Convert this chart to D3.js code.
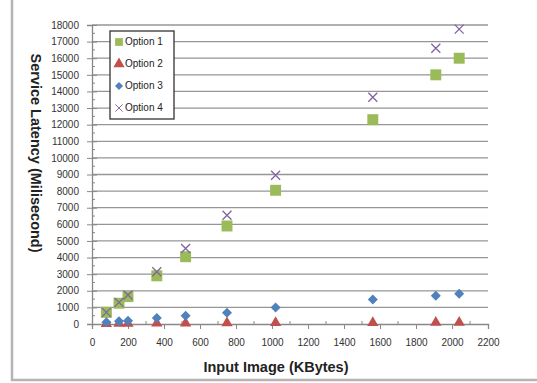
<!DOCTYPE html>
<html>
<head>
<meta charset="utf-8">
<script src="https://cdn.jsdelivr.net/npm/d3@7"></script>
<style>
  body { margin: 0; background: #fff; }
  text { font-family: "Liberation Sans", Arial, sans-serif; }
</style>
</head>
<body>
<div id="chart"></div>
<script>
// Data
const imageSizes = [80, 150, 200, 360, 520, 750, 1020, 1560, 1910, 2040];
const option1 = [700, 1250, 1650, 2900, 4050, 5900, 8050, 12300, 15000, 16000];
const option2 = [20, 30, 30, 40, 50, 60, 70, 80, 90, 95];
const option3 = [100, 160, 200, 360, 500, 680, 1000, 1480, 1700, 1820];
const option4 = [700, 1300, 1750, 3150, 4550, 6550, 8950, 13650, 16600, 17750];
const seriesNames = ['Option 1', 'Option 2', 'Option 3', 'Option 4'];
const xTicks = d3.range(0, 2201, 200);
const yTicks = d3.range(0, 18001, 1000);

const width = 537, height = 383;
const margin = { top: 25, right: 49, bottom: 59, left: 92 };
const innerWidth = width - margin.left - margin.right;
const innerHeight = height - margin.top - margin.bottom;

const svg = d3.select('#chart')
  .append('svg')
    .attr('width', width)
    .attr('height', height);

// Outer frame (only left and bottom edges fall inside the picture)
svg.append('rect')
  .attr('x', 12).attr('y', -10)
  .attr('width', 540).attr('height', 390)
  .attr('fill', 'none')
  .attr('stroke', '#b4b4b4')
  .attr('stroke-width', 2.5);

const g = svg.append('g')
  .attr('transform', 'translate(' + margin.left + ',' + margin.top + ')');

const x = d3.scaleLinear().domain([0, 2200]).range([0, innerWidth]);
const y = d3.scaleLinear().domain([0, 18000]).range([innerHeight, 0]);

// Horizontal gridlines
g.append('g')
  .selectAll('line')
  .data(yTicks.filter(d => d > 0))
  .join('line')
    .attr('x1', 0).attr('x2', innerWidth)
    .attr('y1', d => y(d)).attr('y2', d => y(d))
    .attr('stroke', '#969696')
    .attr('stroke-width', 1.3);

// Minor ticks
g.append('g')
  .selectAll('line')
  .data(d3.range(500, 18000, 1000))
  .join('line')
    .attr('x1', 0).attr('x2', 3)
    .attr('y1', d => y(d)).attr('y2', d => y(d))
    .attr('stroke', '#888');
g.append('g')
  .selectAll('line')
  .data(d3.range(100, 2200, 200))
  .join('line')
    .attr('x1', d => x(d)).attr('x2', d => x(d))
    .attr('y1', innerHeight).attr('y2', innerHeight - 3)
    .attr('stroke', '#888');

// Y axis
const yAxis = g.append('g')
  .call(d3.axisLeft(y).tickValues(yTicks).tickSize(5).tickPadding(8).tickFormat(d3.format('d')));
yAxis.select('.domain').attr('stroke', '#888').attr('stroke-width', 1.3);
yAxis.selectAll('.tick line').attr('stroke', '#888').attr('x2', 5).attr('x1', -5);
yAxis.selectAll('.tick text').attr('fill', '#333').style('font-size', '10px');

// X axis
const xAxis = g.append('g')
  .attr('transform', 'translate(0,' + innerHeight + ')')
  .call(d3.axisBottom(x).tickValues(xTicks).tickSize(5).tickPadding(10).tickFormat(d3.format('d')));
xAxis.select('.domain').attr('stroke', '#888').attr('stroke-width', 1.3);
xAxis.selectAll('.tick line').attr('stroke', '#888');
xAxis.selectAll('.tick text').attr('fill', '#333').style('font-size', '10px');

// Axis titles
svg.append('text')
  .attr('transform', 'translate(35,153) rotate(90)')
  .attr('text-anchor', 'middle')
  .attr('dominant-baseline', 'middle')
  .style('font-size', '14.5px')
  .style('font-weight', 'bold')
  .attr('fill', '#222')
  .text('Service Latency (Milisecond)');

svg.append('text')
  .attr('x', 276).attr('y', 372)
  .attr('text-anchor', 'middle')
  .style('font-size', '14.5px')
  .style('font-weight', 'bold')
  .attr('fill', '#222')
  .text('Input Image (KBytes)');

// Marker shapes
const markers = [
  { color: '#9bbb59', path: d3.symbol(d3.symbolSquare, 120)() },
  { color: '#c0504d', path: d3.symbol(d3.symbolTriangle, 55)() },
  { color: '#4f81bd', path: 'M0,-5L5,0L0,5L-5,0Z' },
  { color: '#8064a2', path: 'M-4.5,-4.5L4.5,4.5M-4.5,4.5L4.5,-4.5', stroke: true }
];
const allSeries = [option1, option2, option3, option4];

allSeries.forEach((values, i) => {
  const m = markers[i];
  g.append('g')
    .selectAll('path')
    .data(values.map((v, j) => ({ x: imageSizes[j], y: v })))
    .join('path')
      .attr('transform', d => 'translate(' + x(d.x) + ',' + y(d.y) + ')')
      .attr('d', m.path)
      .attr('fill', m.stroke ? 'none' : m.color)
      .attr('stroke', m.stroke ? m.color : 'none')
      .attr('stroke-width', 1.3);
});

// Legend
const legend = svg.append('g').attr('transform', 'translate(110,31)');
legend.append('rect')
  .attr('width', 64).attr('height', 88)
  .attr('fill', '#fff')
  .attr('stroke', '#333')
  .attr('stroke-width', 1.3);

seriesNames.forEach((name, i) => {
  const m = markers[i];
  const row = legend.append('g').attr('transform', 'translate(9,' + (11 + i * 22) + ')');
  row.append('path')
    .attr('d', i === 0 ? d3.symbol(d3.symbolSquare, 60)() : m.path)
    .attr('transform', i === 2 || i === 3 ? 'scale(0.8)' : null)
    .attr('fill', m.stroke ? 'none' : m.color)
    .attr('stroke', m.stroke ? m.color : 'none')
    .attr('stroke-width', 1.2);
  row.append('text')
    .attr('x', 6).attr('y', 0)
    .attr('dominant-baseline', 'middle')
    .style('font-size', '10px')
    .attr('fill', '#222')
    .text(name);
});
</script>
</body>
</html>
